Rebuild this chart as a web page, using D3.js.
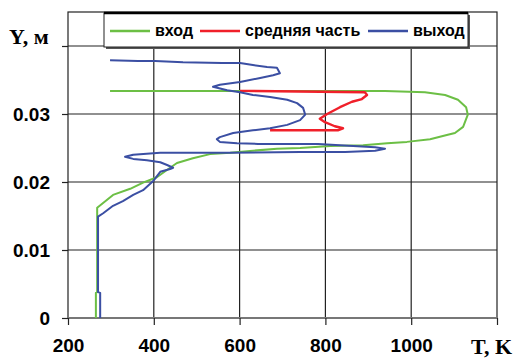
<!DOCTYPE html>
<html>
<head>
<meta charset="utf-8">
<script src="https://cdn.jsdelivr.net/npm/d3@7"></script>
<style>
  body { margin: 0; background: #fff; }
  svg { display: block; }
</style>
</head>
<body>
<script>
// вход (inlet) profile
const tIn = [265, 265, 268, 268, 305, 345, 375, 407, 438, 454, 491, 531, 578, 631, 687, 741, 811, 888, 944, 990, 1044, 1083, 1102, 1121, 1132, 1128, 1109, 1079, 1032, 939, 298];
const yIn = [0, 0.0037, 0.0038, 0.0162, 0.0181, 0.0190, 0.0199, 0.0207, 0.0221, 0.0228, 0.0235, 0.0241, 0.0243, 0.0246, 0.0249, 0.0250, 0.0253, 0.0254, 0.0257, 0.0259, 0.0263, 0.0269, 0.0272, 0.0281, 0.0299, 0.0310, 0.0321, 0.0328, 0.0332, 0.0334, 0.0334];

// средняя часть (middle)
const tMid = [671, 829, 841, 822, 799, 787, 804, 834, 862, 885, 897, 892, 601];
const yMid = [0.0276, 0.0276, 0.0279, 0.0282, 0.0288, 0.0293, 0.0300, 0.0310, 0.0318, 0.0322, 0.0328, 0.0332, 0.0334];

// выход (outlet)
const tOut = [275, 275, 270, 270, 282, 305, 328, 352, 375, 398, 415, 438, 445, 431, 415, 384, 352, 333, 352, 415, 578, 741, 846, 916, 939, 916, 783, 643, 594, 554, 547, 554, 585, 631, 671, 711, 741, 753, 748, 734, 711, 671, 631, 601, 571, 538, 554, 601, 648, 678, 694, 687, 664, 631, 601, 559, 468, 403, 363, 298];
const yOut = [0, 0.0037, 0.0038, 0.0149, 0.0154, 0.0165, 0.0172, 0.0181, 0.0188, 0.0201, 0.0215, 0.0219, 0.0221, 0.0225, 0.0229, 0.0232, 0.0234, 0.0237, 0.0240, 0.0243, 0.0243, 0.0244, 0.0244, 0.0246, 0.0249, 0.0251, 0.0256, 0.0256, 0.0257, 0.0259, 0.0263, 0.0266, 0.0272, 0.0276, 0.0279, 0.0284, 0.0291, 0.0299, 0.0309, 0.0316, 0.0321, 0.0325, 0.0328, 0.0332, 0.0335, 0.0340, 0.0343, 0.0347, 0.0353, 0.0357, 0.0360, 0.0368, 0.0369, 0.0372, 0.0375, 0.0375, 0.0376, 0.0378, 0.0378, 0.0379];

const xTicks = [200, 400, 600, 800, 1000, 1200];
const yTicks = [0, 0.01, 0.02, 0.03, 0.04];
const seriesNames = ["вход", "средняя часть", "выход"];
const seriesColors = ["#6cbf45", "#f0202a", "#3b4fa3"];

const W = 518, H = 358;
const margin = { top: 12, right: 21, bottom: 40, left: 68 };

const svg = d3.select("body").append("svg")
  .attr("width", W)
  .attr("height", H);

const x = d3.scaleLinear().domain([200, 1200]).range([margin.left, W - margin.right]);
const y = d3.scaleLinear().domain([0, 0.045]).range([H - margin.bottom, margin.top]);

// grid
svg.append("g")
  .selectAll("line.vg")
  .data(xTicks.slice(1, -1))
  .join("line")
  .attr("x1", d => x(d)).attr("x2", d => x(d))
  .attr("y1", y(0)).attr("y2", y(0.045))
  .attr("stroke", "#222").attr("stroke-width", 1.2);
svg.append("g")
  .selectAll("line.hg")
  .data(yTicks.slice(1))
  .join("line")
  .attr("x1", x(200)).attr("x2", x(1200))
  .attr("y1", d => y(d)).attr("y2", d => y(d))
  .attr("stroke", "#222").attr("stroke-width", 1.2);

// frame
svg.append("rect")
  .attr("x", x(200)).attr("y", y(0.045))
  .attr("width", x(1200) - x(200)).attr("height", y(0) - y(0.045))
  .attr("fill", "none").attr("stroke", "#222").attr("stroke-width", 1.2);
svg.append("line")
  .attr("x1", x(200)).attr("x2", x(1200))
  .attr("y1", y(0)).attr("y2", y(0))
  .attr("stroke", "#777").attr("stroke-width", 2);

// axes
const yAxis = svg.append("g")
  .attr("transform", `translate(${x(200)},0)`)
  .call(d3.axisLeft(y).tickValues(yTicks).tickSize(6).tickPadding(12)
    .tickFormat(d => d === 0.04 ? "" : (d === 0 ? "0" : d3.format(".2f")(d))));
const xAxis = svg.append("g")
  .attr("transform", `translate(0,${y(0)})`)
  .call(d3.axisBottom(x).tickValues(xTicks).tickSize(7).tickPadding(14)
    .tickFormat(d => d === 1200 ? "" : d));
[yAxis, xAxis].forEach(a => {
  a.select(".domain").remove();
  a.selectAll(".tick line").attr("stroke", "#222").attr("stroke-width", 1.2);
  a.selectAll(".tick text")
    .attr("fill", "#000")
    .style("font-family", "'Liberation Sans', Arial, sans-serif")
    .style("font-weight", "bold")
    .style("font-size", "19px");
});
yAxis.selectAll(".tick text").attr("dy", "0.36em");
xAxis.selectAll(".tick text").attr("dy", "0.71em");

// axis titles
svg.append("text")
  .attr("x", 9).attr("y", 44)
  .style("font-family", "'Liberation Serif', 'Times New Roman', serif")
  .style("font-weight", "bold").style("font-size", "22px")
  .text("Y, м");
svg.append("text")
  .attr("x", 471).attr("y", 354)
  .style("font-family", "'Liberation Serif', 'Times New Roman', serif")
  .style("font-weight", "bold").style("font-size", "22px")
  .text("T, K");

// curves
const line = d3.line().x(d => x(d[0])).y(d => y(d[1]));
const series = [
  d3.zip(tIn, yIn),
  d3.zip(tMid, yMid),
  d3.zip(tOut, yOut)
];
svg.append("g")
  .selectAll("path")
  .data(series)
  .join("path")
  .attr("d", line)
  .attr("fill", "none")
  .attr("stroke", (d, i) => seriesColors[i])
  .attr("stroke-width", (d, i) => i === 1 ? 2.4 : 2)
  .attr("stroke-linejoin", "round");

// legend
const lg = svg.append("g");
lg.append("rect")
  .attr("x", 106).attr("y", 15)
  .attr("width", 364).attr("height", 34)
  .attr("fill", "#555");
lg.append("rect")
  .attr("x", 104).attr("y", 13)
  .attr("width", 364).attr("height", 34)
  .attr("fill", "#fff").attr("stroke", "#222").attr("stroke-width", 1);
lg.append("line")
  .attr("x1", 104).attr("x2", 468).attr("y1", 13).attr("y2", 13)
  .attr("stroke", "#000").attr("stroke-width", 2.5);
const legX = [110, 200, 368];
const legItem = lg.selectAll("g.item")
  .data(seriesNames)
  .join("g")
  .attr("transform", (d, i) => `translate(${legX[i]},31)`);
legItem.append("line")
  .attr("x1", 0).attr("x2", 40)
  .attr("stroke", (d, i) => seriesColors[i])
  .attr("stroke-width", 2.4);
legItem.append("text")
  .attr("x", 45).attr("y", 4.5)
  .style("font-family", "'Liberation Sans', Arial, sans-serif")
  .style("font-weight", "bold").style("font-size", "16px")
  .text(d => d);
</script>
</body>
</html>
